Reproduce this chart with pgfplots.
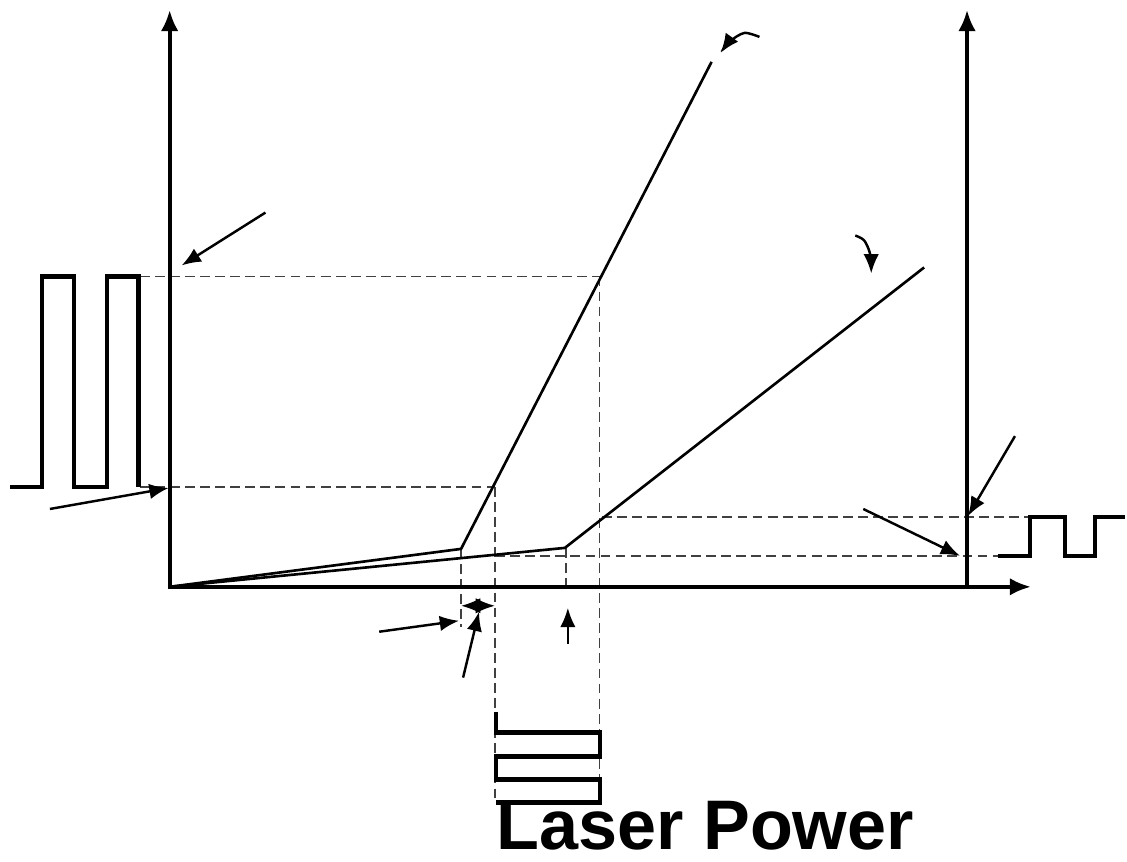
\documentclass[border=0pt]{standalone}
\usepackage{fontspec}
\setmainfont{Liberation Sans}
\usepackage{pgfplots}
\pgfplotsset{compat=1.18}
\usetikzlibrary{arrows.meta}
\begin{document}
\begin{tikzpicture}
\begin{axis}[
  width=11.27cm, height=8.63cm, scale only axis,
  xmin=0, xmax=1127, ymin=0, ymax=863, y dir=reverse,
  hide axis, clip=false,
  ax/.style={black, line width=1.1pt, -{Latex[length=6pt,width=5pt]}},
  ln/.style={black, line width=0.75pt},
  dsh/.style={black!75, line width=0.4pt, dash pattern=on 2.8pt off 1.5pt},
  wv/.style={black, line width=1.3pt},
  ar/.style={black, line width=0.7pt, -{Latex[length=5.5pt,width=4.4pt]}},
]
\path (rel axis cs:0,0) rectangle (rel axis cs:1,1);
% dashed guides
\addplot[dsh] coordinates {(140,277) (601,277)};
\addplot[dsh] coordinates {(601,277) (601,805)};
\addplot[dsh] coordinates {(140,488) (496,488)};
\addplot[dsh] coordinates {(496,488) (496,805)};
\addplot[dsh] coordinates {(462,550) (462,628)};
\addplot[dsh] coordinates {(567,549) (567,588)};
\addplot[dsh] coordinates {(496,557) (1000,557)};
\addplot[dsh] coordinates {(603,518) (1032,518)};
% axes
\addplot[ax] coordinates {(170,589) (170,10)};
\addplot[ax] coordinates {(168,588) (1033,588)};
\addplot[ax] coordinates {(969,589) (969,10)};
% curves
\addplot[ln] coordinates {(170,588) (462,550) (713,62)};
\addplot[ln] coordinates {(170,588) (566,549) (926,268)};
% waves
\addplot[wv] coordinates {(10,488) (42,488) (42,277) (74,277) (74,488) (107,488) (107,277) (139,277) (139,488)};
\addplot[wv] coordinates {(497,713) (497,734) (601,734) (601,758) (497,758) (497,781) (601,781) (601,804) (497,804)};
\addplot[wv] coordinates {(1000,557) (1032,557) (1032,518) (1067,518) (1067,557) (1097,557) (1097,518) (1127,518)};
% arrows
\addplot[ar] coordinates {(266,213) (182,266)};
\addplot[ar] coordinates {(50,510) (169,489)};
\addplot[ar] coordinates {(1017,437) (970,517)};
\addplot[ar] coordinates {(865,510) (962,557)};
\addplot[ar] coordinates {(380,633) (460,622)};
\addplot[ar] coordinates {(464,679) (480,613)};
\addplot[ar, {Latex[length=5.5pt,width=4.4pt]}-{Latex[length=5.5pt,width=4.4pt]}] coordinates {(462,607) (496,607)};
\addplot[ar] coordinates {(569,645) (569,609)};
\addplot[ar, smooth] coordinates {(761,37) (746,33) (732,41) (722,53)};
\addplot[ar, smooth] coordinates {(857,236) (866,241) (872,255) (873,274)};
\node[anchor=base west, inner sep=0pt, font=\fontsize{20}{24}\selectfont\bfseries] at (axis cs:497,851) {Laser Power};
\end{axis}
\end{tikzpicture}
\end{document}
